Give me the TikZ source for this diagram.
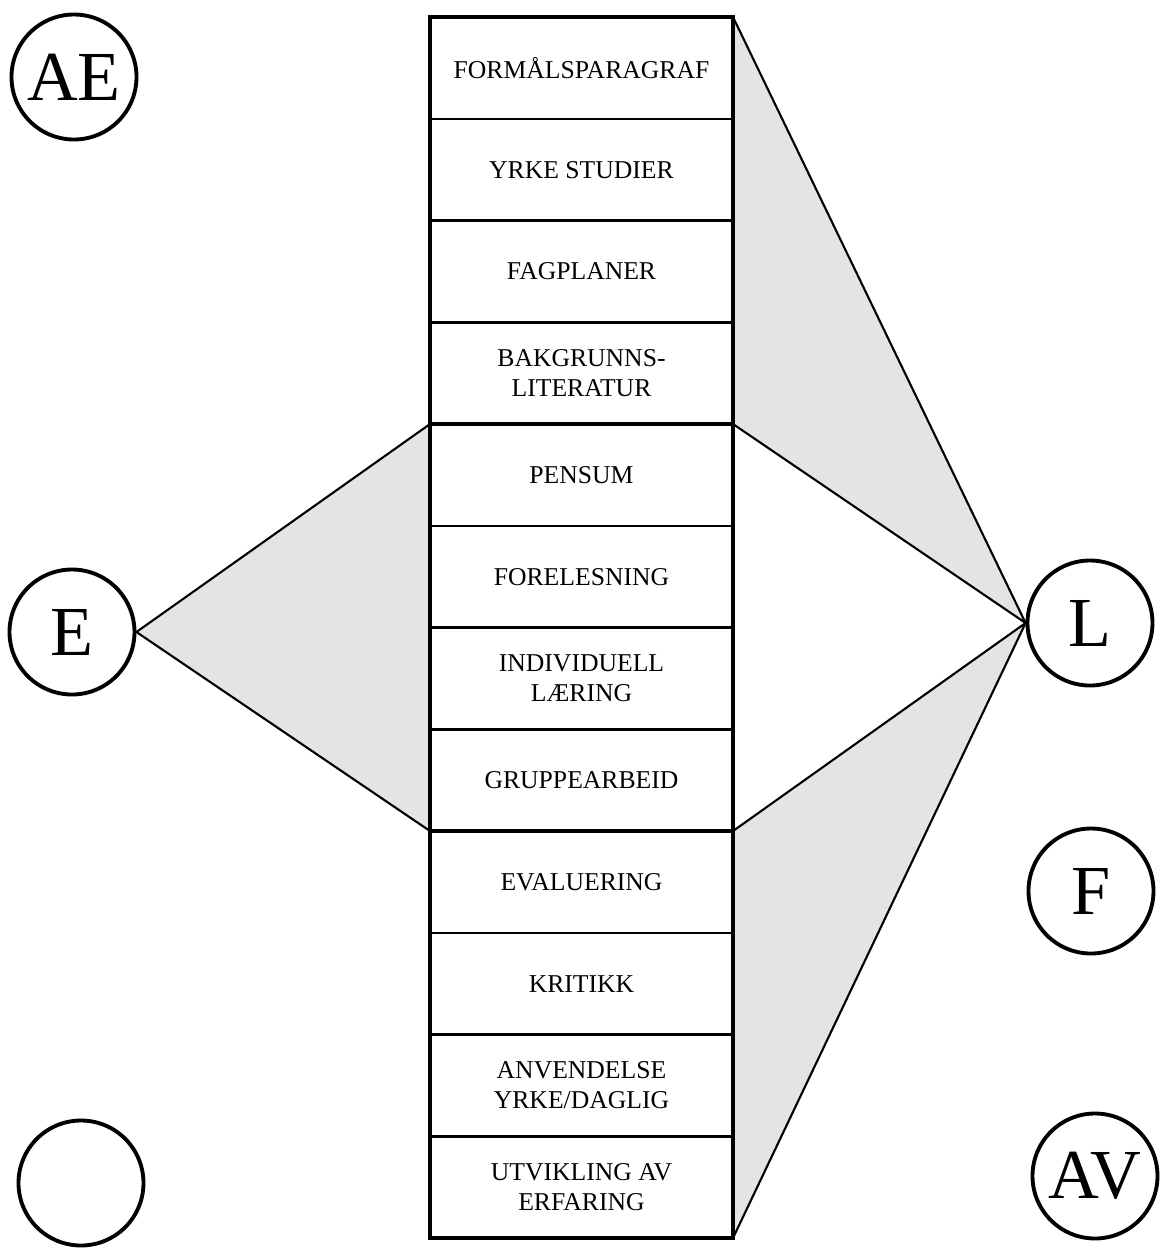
\documentclass[tikz,border=0pt]{standalone}
\usepackage{fontspec}
\setmainfont{Liberation Serif}
\usetikzlibrary{positioning}
\definecolor{fangrey}{RGB}{228, 228, 228}

\begin{document}
\begin{tikzpicture}[
	rolle/.style={draw, circle, line width=1.1pt, minimum size=1.25cm, inner sep=0pt, font=\fontsize{20}{22}\selectfont},
	felt/.style={draw, rectangle, line width=0.7pt, minimum width=3.03cm, minimum height=1.0175cm, inner sep=0pt, outer sep=0pt, align=center, font=\fontsize{7.3}{8.6}\selectfont},
	fan/.style={line width=0.6pt}
]
	\useasboundingbox (0, 0) rectangle (11.61, -12.52);

	\node[rolle] (AE) at (0.74, -0.77) {AE};
	\node[rolle] (E) at (0.72, -6.32) {E};
	\node[rolle] (tom) at (0.81, -11.83) {};
	\node[rolle] (L) at (10.90, -6.23) {L};
	\node[rolle] (F) at (10.91, -8.91) {F};
	\node[rolle] (AV) at (10.95, -11.76) {AV};

	\node[felt] (f1) at (5.815, -0.679) {FORMÅLSPARAGRAF};
	\node[felt, below=0pt of f1] (f2) {YRKE STUDIER};
	\node[felt, below=0pt of f2] (f3) {FAGPLANER};
	\node[felt, below=0pt of f3] (f4) {BAKGRUNNS-\\LITERATUR};
	\node[felt, below=0pt of f4] (f5) {PENSUM};
	\node[felt, below=0pt of f5] (f6) {FORELESNING};
	\node[felt, below=0pt of f6] (f7) {INDIVIDUELL\\LÆRING};
	\node[felt, below=0pt of f7] (f8) {GRUPPEARBEID};
	\node[felt, below=0pt of f8] (f9) {EVALUERING};
	\node[felt, below=0pt of f9] (f10) {KRITIKK};
	\node[felt, below=0pt of f10] (f11) {ANVENDELSE\\YRKE/DAGLIG};
	\node[felt, below=0pt of f11] (f12) {UTVIKLING AV\\ERFARING};

	% grey fans
	\fill[fangrey] (E.east) -- (f5.north west) -- (f8.south west) -- cycle;
	\fill[fangrey] (L.west) -- (f1.north east) -- (f4.south east) -- cycle;
	\fill[fangrey] (L.west) -- (f9.north east) -- (f12.south east) -- cycle;
	\draw[fan] (f5.north west) -- (E.east) -- (f8.south west);
	\draw[fan] (f1.north east) -- (L.west) -- (f4.south east);
	\draw[fan] (f9.north east) -- (L.west) -- (f12.south east);

	% frame
	\draw[line width=1.2pt] (f1.north west) rectangle (f12.south east);
	\draw[line width=1.2pt] (f4.south west) -- (f4.south east);
	\draw[line width=1.2pt] (f8.south west) -- (f8.south east);
\end{tikzpicture}
\end{document}
